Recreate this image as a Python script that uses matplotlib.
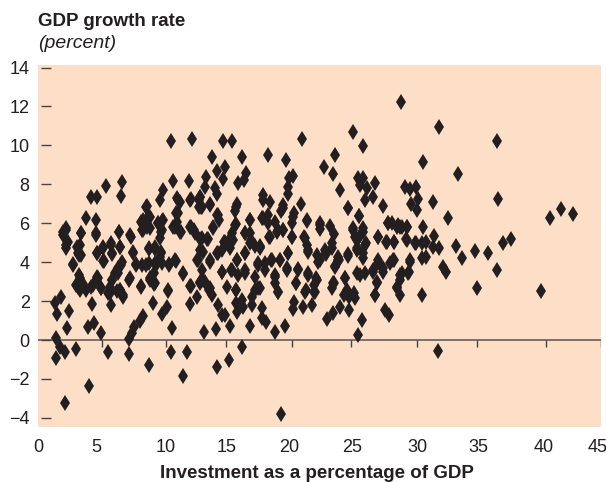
import matplotlib
matplotlib.use("Agg")
import matplotlib.pyplot as plt

plt.rcParams['font.family'] = ['Liberation Sans', 'DejaVu Sans']

# values, region by region
left_x = [2.16, 4.1, 1.44, 2.16, 3.04, 1.76, 1.44, 5.63, 7.3, 8.9, 10.6, 11.9, 11.57, 2.35, 4.03, 4.5, 5.04, 7.3, 7.5, 7.7, 8.16, 8.43, 10.7,
          1.36, 1.55, 1.84, 2.45, 4.35, 5.84, 5.57, 6.83, 7.3, 8.2, 9.2, 9.95, 10.3, 10.4, 12.16, 12.16, 11.57, 11.0, 10.5,
          3.04, 3.3, 3.36, 3.84, 4.43, 4.75, 5.04, 3.2, 3.57, 2.77, 3.3, 3.15, 2.24, 4.7, 5.2, 5.2, 5.95, 5.84, 6.56,
          6.7, 6.43, 6.16, 5.9, 5.76, 6.56, 6.3, 7.6, 7.84, 8.35, 8.88, 9.36, 9.76, 8.88, 9.36, 9.84, 8.96, 9.28, 9.28, 9.9,
          12.77, 12.7, 12.93]
left_y = [-3.22, -2.35, -0.9, -0.6, -0.46, -0.34, 0.09, -0.6, -0.74, -1.28, -0.6, -0.6, -1.85, 0.63, 0.65, 0.89, 0.38, 0.05, 0.34, 0.65, 1.0, 1.23, 0.63,
          1.88, 1.34, 2.19, 1.49, 1.83, 1.8, 2.4, 2.23, 3.1, 2.74, 1.88, 1.34, 1.71, 2.53, 1.83, 2.77, 3.42, 4.06, 3.89,
          2.83, 3.34, 2.57, 2.57, 2.83, 3.25, 2.65, 2.9, 2.9, 3.9, 4.37, 4.8, 4.88, 4.45, 4.07, 4.8, 4.42, 4.88, 4.8,
          4.02, 3.68, 3.42, 3.08, 2.74, 2.57, 2.53, 4.49, 3.9, 3.85, 3.97, 3.94, 4.28, 4.7, 4.7, 4.54, 3.1, 2.9, 3.42, 3.94,
          4.11, 2.23, 2.91]

upper_left_x = [10.6, 12.27, 10.77, 12.08, 6.72, 5.44, 6.6, 4.24, 4.75, 9.97, 9.76, 11.1, 11.36, 12.16, 8.7, 3.84, 4.64, 8.83, 8.43, 9.95, 9.63,
                11.17, 11.09, 2.24, 2.03, 3.44, 4.64, 6.5, 7.36, 8.35, 8.7, 9.9, 10.83, 11.36, 12.16, 12.43, 12.9, 12.83]
upper_left_y = [10.2, 10.35, 8.18, 8.18, 8.1, 7.93, 7.4, 7.33, 7.33, 7.7, 7.2, 7.28, 7.1, 7.2, 6.88, 6.25, 6.16, 6.34, 6.16, 6.11, 6.03,
                6.5, 6.08, 5.74, 5.53, 5.48, 5.48, 5.57, 5.39, 5.65, 5.82, 5.65, 5.82, 5.57, 5.82, 5.65, 7.2, 6.85]

upper_mid_x = [14.82, 15.54, 21.08, 25.2, 26.0, 13.94, 16.34, 18.42, 19.8, 23.75, 22.87, 23.56, 14.95, 14.34, 14.82, 13.43, 13.35, 16.6, 16.47, 16.0,
               14.15, 14.34, 12.95, 13.08, 13.75, 20.1, 20.42, 20.02, 20.02, 18.0, 18.0, 18.55, 21.0, 19.62, 19.4, 20.5, 21.48, 24.15, 25.54, 25.94,
               25.75, 26.28, 26.95, 26.15, 26.74, 24.76, 27.54, 25.67, 15.91, 15.75, 14.28, 14.47, 16.95, 15.8, 13.96, 17.88, 18.42, 18.42, 18.95, 19.14,
               19.62, 20.34, 20.34, 18.5, 22.5, 22.5, 23.3, 23.62, 23.48, 23.48, 25.16, 25.94, 25.62, 25.3, 25.48, 26.2, 26.0, 27.16, 27.83, 28.42,
               28.0, 28.68, 29.08, 28.28, 16.95, 16.55, 15.48, 14.95, 15.62, 15.35, 13.54, 12.95, 14.34, 16.55, 17.35, 17.75, 16.95, 20.02, 21.3, 21.48,
               21.62, 22.95, 22.34, 24.76, 24.0, 13.2]
upper_mid_y = [10.23, 10.23, 10.33, 10.71, 9.99, 9.39, 9.39, 9.51, 9.25, 9.51, 8.87, 8.53, 8.91, 8.69, 8.26, 8.36, 7.88, 8.6, 8.22, 8.05,
               7.8, 7.5, 7.37, 6.85, 6.99, 8.34, 8.43, 7.88, 7.5, 7.45, 7.2, 7.11, 6.99, 6.94, 6.65, 6.51, 6.15, 7.71, 8.31, 8.34,
               7.97, 7.8, 8.05, 7.2, 7.33, 6.77, 6.89, 6.39, 6.97, 6.63, 6.43, 6.17, 6.17, 5.95, 5.79, 6.25, 6.43, 5.99, 6.08, 5.57,
               5.65, 5.99, 5.31, 5.31, 5.99, 5.7, 5.86, 5.45, 4.97, 4.71, 5.74, 5.74, 5.31, 5.31, 4.71, 4.97, 4.46, 5.31, 5.06, 5.06,
               5.99, 5.83, 5.83, 5.99, 5.48, 5.48, 5.48, 5.06, 5.14, 4.71, 5.17, 5.17, 4.46, 4.49, 4.83, 4.83, 4.97, 4.49, 5.31, 4.88,
               4.54, 4.63, 4.37, 4.42, 4.28, 4.54]

lower_mid_x = [14.34, 15.27, 16.34, 19.4, 25.56, 25.86, 13.27, 14.23, 15.35, 16.95, 18.92, 19.72, 23.08, 23.56, 24.87, 27.75, 28.02, 14.42, 14.68, 14.95,
               15.88, 16.34, 15.83, 16.36, 17.08, 17.94, 17.88, 18.2, 20.5, 20.42, 21.22, 21.88, 21.43, 22.1, 19.22, 20.6, 15.8, 15.08, 13.7, 13.88,
               13.35, 17.35, 17.75, 17.08, 18.95, 18.95, 14.68, 15.48, 16.02, 16.55, 17.35, 17.62, 18.15, 18.68, 19.35, 19.94, 20.82, 21.62, 22.28, 22.1,
               23.62, 24.55, 23.48, 24.42, 24.15, 24.82, 25.35, 24.68, 25.22, 22.5, 23.03, 23.7, 24.0, 25.48, 26.15, 26.76, 27.2, 27.56, 28.15, 28.42,
               27.08, 26.95, 28.68, 13.2, 13.75, 14.68, 15.94, 17.75]
lower_mid_y = [-1.4, -1.03, -0.34, -3.78, 0.26, 1.01, 0.39, 0.55, 0.72, 0.74, 0.39, 0.74, 1.1, 1.37, 1.54, 1.54, 1.28, 1.8, 1.28, 1.28,
               1.46, 2.05, 1.88, 1.71, 1.8, 1.63, 1.11, 0.94, 1.97, 1.58, 1.71, 1.8, 2.57, 2.48, 2.45, 2.91, 2.57, 2.74, 2.57, 2.31,
               3.0, 2.57, 2.65, 2.23, 3.34, 2.91, 3.51, 3.6, 3.34, 3.42, 3.25, 3.85, 3.94, 4.11, 4.11, 3.68, 3.6, 3.34, 3.08, 2.83,
               2.91, 3.17, 2.65, 2.31, 1.71, 2.23, 2.14, 2.57, 2.4, 4.11, 4.42, 3.8, 4.11, 3.42, 3.42, 3.51, 3.94, 3.51, 3.94, 4.11,
               2.91, 2.31, 2.74, 3.08, 4.11, 4.62, 4.11, 4.71]

right_x = [28.99, 32.09, 36.65, 30.81, 33.58, 36.75, 29.31, 29.74, 30.22, 30.41, 29.82, 30.33, 31.6, 32.81, 28.94, 29.53, 30.81, 31.69, 29.42, 30.22,
           30.67, 31.02, 31.6, 32.09, 33.39, 33.87, 34.89, 35.95, 37.15, 37.77, 40.94, 41.82, 42.73, 29.74, 30.67, 31.02,
           36.67, 32.41, 32.62, 29.66, 30.67, 35.07, 40.22, 32.0, 28.94, 29.07, 28.94]
right_y = [12.21, 10.93, 10.21, 9.13, 8.53, 7.23, 7.85, 7.74, 7.85, 7.23, 7.0, 6.68, 7.11, 6.25, 5.83, 5.83, 5.79, 5.35, 5.17, 4.97,
           4.97, 5.06, 4.8, 4.71, 4.83, 4.2, 4.59, 4.49, 4.97, 5.17, 6.27, 6.73, 6.48, 4.1, 4.2, 4.29,
           3.6, 3.77, 3.48, 3.48, 2.31, 2.65, 2.53, -0.56, 2.31, 3.42, 3.08]

# dense band, second reading
band_left_x = [2.27, 2.0, 2.4, 2.27, 3.47, 4.67, 3.33, 3.2, 2.8, 3.47, 6.48, 7.41, 5.81, 5.2, 4.75, 5.92, 6.53, 5.25, 7.6, 8.88, 9.33, 9.87, 9.73,
               6.61, 7.33, 6.4, 5.92, 7.87, 8.67, 9.47, 10.45, 10.99, 11.6, 12.19, 10.4, 8.21, 8.93, 9.33, 3.33, 3.2, 4.27, 4.8, 5.01, 5.73, 6.53, 6.8,
               8.27, 8.93, 8.67, 8.4, 8.93, 9.6, 10.0, 9.81, 11.2, 11.07, 10.93, 11.41, 12.19, 12.99, 12.93, 13.73, 14.35, 14.0, 12.21, 12.53, 13.07,
               13.6, 14.88, 14.4, 12.93, 12.67, 13.73, 13.07, 14.67, 12.93, 13.73]
band_left_y = [5.65, 5.39, 5.05, 4.71, 5.48, 5.39, 4.88, 4.45, 3.85, 4.37, 5.56, 5.31, 4.97, 4.71, 4.45, 4.45, 4.79, 4.07, 4.5, 4.71, 4.79, 4.45, 5.22,
               3.85, 3.17, 3.42, 3.08, 3.85, 3.85, 3.85, 3.85, 4.11, 3.39, 2.77, 2.57, 2.77, 3.17, 2.91, 3.17, 2.74, 2.74, 3.17, 2.65, 2.4, 2.57, 2.31,
               6.08, 6.34, 6.85, 5.65, 5.74, 5.99, 6.16, 5.57, 7.19, 6.5, 5.82, 5.57, 7.23, 6.85, 7.36, 6.93, 6.42, 5.77, 5.82, 5.48, 5.22,
               5.17, 5.05, 4.45, 4.62, 4.11, 4.02, 3.6, 3.51, 3.0, 2.65]

band_mid_x = [15.86, 15.72, 16.92, 15.46, 16.52, 17.06, 17.72, 16.52, 15.94, 15.46, 16.52, 17.59, 18.66, 19.32, 18.12, 18.98, 19.99, 19.94, 20.79, 21.59,
              20.6, 19.19, 17.59, 15.86, 17.99, 19.59, 21.51, 18.52, 19.19, 19.59, 20.31, 20.39, 22.52, 21.32, 21.59, 22.39, 22.98, 23.72, 24.04, 24.79,
              24.74, 25.67, 25.19, 25.94, 25.46, 25.46, 26.12, 25.99, 27.14, 27.99, 28.79, 29.51, 27.86, 28.44, 29.46, 30.12, 29.72, 28.39, 27.19, 27.59,
              25.72, 26.79, 27.06, 28.92, 29.59, 28.66, 26.92, 24.52, 23.59, 22.26, 21.32, 22.18]
band_mid_y = [6.85, 5.91, 6.16, 5.31, 5.48, 5.14, 4.79, 4.45, 4.11, 3.6, 3.6, 3.94, 4.11, 4.11, 3.6, 3.25, 4.45, 3.6, 3.63, 3.42,
              2.91, 2.48, 2.65, 2.57, 6.25, 6.76, 6.13, 5.31, 5.65, 5.65, 5.31, 6.34, 5.91, 5.22, 4.62, 4.02, 4.45, 3.77, 4.11, 4.33,
              6.76, 6.37, 5.65, 5.57, 5.14, 4.62, 4.88, 4.2, 5.31, 5.99, 5.91, 5.82, 5.05, 5.05, 5.14, 4.97, 4.02, 4.11, 4.11, 3.68,
              3.34, 3.6, 3.0, 3.34, 3.42, 2.65, 2.31, 3.17, 2.91, 3.17, 2.48, 2.48]

investment = left_x + upper_left_x + upper_mid_x + lower_mid_x + right_x + band_left_x + band_mid_x
growth = left_y + upper_left_y + upper_mid_y + lower_mid_y + right_y + band_left_y + band_mid_y

x_labels = ['0', '5', '10', '15', '20', '25', '30', '35', '40', '45']
x_label_pos = [0, 4.64, 10.2, 15.1, 20.1, 25.1, 30.3, 35.2, 40.4, 44.7]
x_marks = [5.14, 10.2, 15.05, 20.3, 25.0, 30.3, 35.1, 40.6, 45]
y_ticks = [14, 12, 10, 8, 6, 4, 2, 0, -2, -4]
y_labels = ['14', '12', '10', '8', '6', '4', '2', '0', '\u22122', '\u22124']

ink = '#231f20'
fig = plt.figure(figsize=(6.06, 4.82), dpi=100)
ax = fig.add_axes([38 / 606, 1 - 427 / 482, 563 / 606, 362 / 482])
ax.set_facecolor('#fddfc8')
ax.set_xlim(0, 45)
ax.set_ylim(-4.47, 14.13)
for s in ax.spines.values():
    s.set_visible(False)

ax.axhline(0, color='#7d6f68', lw=1.4, zorder=1)
ax.vlines(x_marks, -0.36, 0, color='#4a4240', lw=1, zorder=1)
ax.hlines(y_ticks, 0.2, 1.0, color='#4a4240', lw=1, zorder=1)

ax.plot(investment, growth, ls='none', marker='d', ms=8.6, mfc=ink, mec=ink, mew=0, zorder=3)

ax.set_xticks(x_label_pos, x_labels)
ax.set_yticks(y_ticks, y_labels)
ax.tick_params(length=0, labelsize=13, labelcolor=ink)
ax.tick_params(axis='x', pad=9)
ax.tick_params(axis='y', pad=6)

fig.text(38 / 606, 1 - 22 / 482, 'GDP growth rate', fontsize=13.5, fontweight='bold', color=ink, va='center')
fig.text(38 / 606, 1 - 44 / 482, '(percent)', fontsize=14, fontstyle='italic', color=ink, va='center')
fig.text(317 / 606, 1 - 473 / 482, 'Investment as a percentage of GDP', fontsize=13.5, fontweight='bold', color=ink, ha='center', va='center')

fig.savefig('out.png', dpi=100)
